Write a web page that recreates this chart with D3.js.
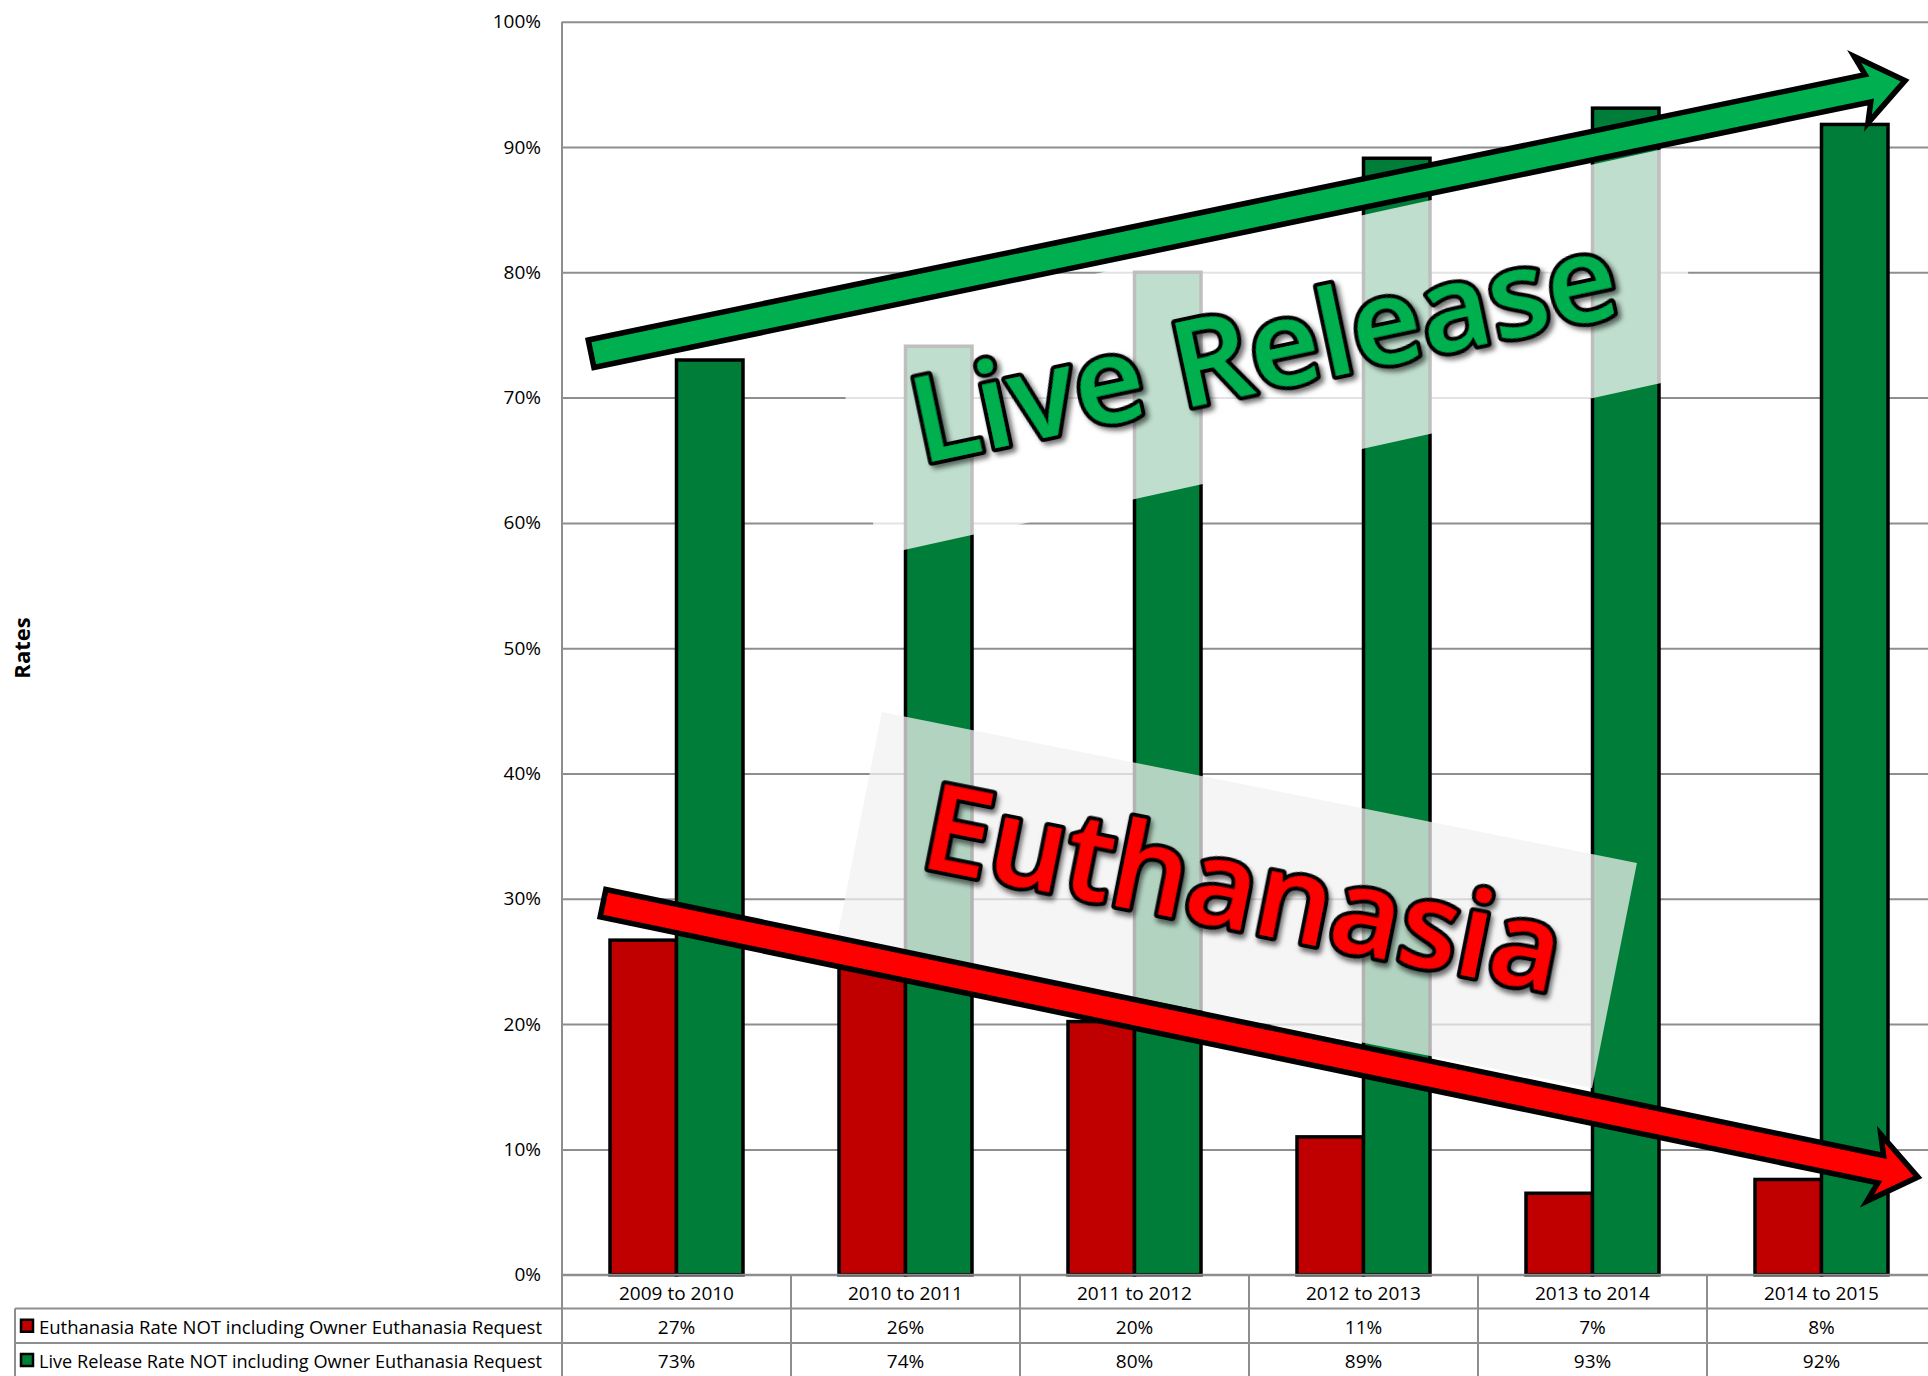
<!DOCTYPE html>
<html><head><meta charset="utf-8">
<script src="https://cdn.jsdelivr.net/npm/d3@7/dist/d3.min.js"></script>
<style>html,body{margin:0;padding:0;background:#fff;overflow:hidden}svg{display:block}</style>
</head><body>
<script>
// ---- data ----
const categories = ["2009 to 2010","2010 to 2011","2011 to 2012","2012 to 2013","2013 to 2014","2014 to 2015"];
const euthanasia = [26.7, 25.8, 20.2, 11.0, 6.5, 7.6];
const liveRelease = [73.0, 74.1, 80.0, 89.1, 93.1, 91.8];
const euthanasiaLabels = ["27%","26%","20%","11%","7%","8%"];
const liveReleaseLabels = ["73%","74%","80%","89%","93%","92%"];
const seriesNames = ["Euthanasia Rate NOT including Owner Euthanasia Request","Live Release Rate NOT including Owner Euthanasia Request"];
const seriesColors = ["#c00000","#007e39"];
const yTicks = [0,10,20,30,40,50,60,70,80,90,100];
// annotations in data space: [column position, value %]
const greenArrow = [[0.127, 73.5],[5.865, 95.3]];
const redArrow = [[0.179, 29.65],[5.921, 7.8]];
const liveBox = [[1.175,75.24],[4.799,89.8],[5.013,72.03],[1.389,57.42]];
const euthBox = [[1.397,44.9],[4.694,32.85],[4.498,14.9],[1.201,26.85]];
const liveText = {text:"Live Release", at:[1.568,64.7], angle:-12, len:718, color:"#00b050"};
const euthText = {text:"Euthanasia", at:[1.552,32.6], angle:11.3, len:648, color:"#ff0000"};

const W=1928, H=1376;
const plotLeft=562, colW=229, plotRight=plotLeft+6*colW, yTop=21.7, yBot=1274.7;
const row1=1308.5, row2=1343, row3=1377, legendLeft=15;
const font="'Open Sans', sans-serif";

const svg=d3.select("body").append("svg").attr("width",W).attr("height",H);
const defs=svg.append("defs");
const f=defs.append("filter").attr("id","shadow").attr("x","-10%").attr("y","-10%").attr("width","120%").attr("height","130%");
f.append("feDropShadow").attr("dx",3).attr("dy",4).attr("stdDeviation",2.5).attr("flood-color","#000").attr("flood-opacity",0.55);

const y=d3.scaleLinear().domain([0,100]).range([yBot,yTop]);
const x0=d3.scaleBand().domain(categories).range([plotLeft,plotRight]).padding(0);
const x1=d3.scaleBand().domain([0,1]).range([48,181]).padding(0);
const xc=d3.scaleLinear().domain([0,6]).range([plotLeft,plotRight]);

// gridlines + y axis labels
const yAxis=d3.axisLeft(y).tickValues(yTicks).tickFormat(d=>d+"%").tickSize(-(plotRight-plotLeft)).tickPadding(21);
const ga=svg.append("g").attr("transform",`translate(${plotLeft},0)`).call(yAxis);
ga.select(".domain").remove();
ga.selectAll(".tick line").attr("stroke","#8e8e8e").attr("stroke-width",2);
ga.selectAll(".tick text").attr("font-family",font).attr("font-size",19).attr("fill","#000");

// axis vertical line
svg.append("line").attr("x1",plotLeft).attr("x2",plotLeft).attr("y1",yTop).attr("y2",row3).attr("stroke","#8e8e8e").attr("stroke-width",2);

// bars
const groups=svg.append("g").selectAll("g").data(categories).join("g").attr("transform",d=>`translate(${x0(d)},0)`);
groups.selectAll("rect").data((d,i)=>[euthanasia[i],liveRelease[i]]).join("rect")
  .attr("x",(d,j)=>x1(j)).attr("width",x1.bandwidth())
  .attr("y",d=>y(d)).attr("height",d=>y(0)-y(d))
  .attr("fill",(d,j)=>seriesColors[j]).attr("stroke","#000").attr("stroke-width",3.5);

// table
const tg=svg.append("g");
[row1,row2,row3].forEach(yy=>tg.append("line").attr("x1",legendLeft).attr("x2",W).attr("y1",yy).attr("y2",yy).attr("stroke","#8e8e8e").attr("stroke-width",2));
tg.append("line").attr("x1",plotLeft).attr("x2",W).attr("y1",yBot).attr("y2",yBot).attr("stroke","#8e8e8e").attr("stroke-width",2);
d3.range(7).forEach(k=>tg.append("line").attr("x1",xc(k)).attr("x2",xc(k)).attr("y1",yBot).attr("y2",row3).attr("stroke","#8e8e8e").attr("stroke-width",2));
tg.append("line").attr("x1",legendLeft).attr("x2",legendLeft).attr("y1",row1).attr("y2",row3).attr("stroke","#8e8e8e").attr("stroke-width",2);
const cellText=(xx,yy,t)=>tg.append("text").attr("x",xx).attr("y",yy).attr("text-anchor","middle").attr("dominant-baseline","central")
  .attr("font-family",font).attr("font-size",19).attr("fill","#000").text(t);
categories.forEach((c,i)=>{
  const cx=x0(c)+x0.bandwidth()/2;
  cellText(cx,(yBot+row1)/2+1,c);
  cellText(cx,(row1+row2)/2+1,euthanasiaLabels[i]);
  cellText(cx,(row2+row3)/2+1,liveReleaseLabels[i]);
});
[[row1,row2],[row2,row3]].forEach(([a,b],j)=>{
  const cy=(a+b)/2;
  tg.append("rect").attr("x",21).attr("y",cy-6).attr("width",12).attr("height",12).attr("fill",seriesColors[j]).attr("stroke","#000").attr("stroke-width",2.5);
  tg.append("text").attr("x",39).attr("y",cy+1).attr("dominant-baseline","central").attr("font-family",font).attr("font-size",19)
    .attr("textLength",503).attr("lengthAdjust","spacingAndGlyphs").attr("fill","#000").text(seriesNames[j]);
});

// y title
svg.append("text").attr("transform","translate(21,648) rotate(-90)").attr("text-anchor","middle").attr("dominant-baseline","central")
  .attr("font-family",font).attr("font-weight",700).attr("font-size",22).attr("fill","#000").text("Rates");

// annotations
const pt=p=>[xc(p[0]),y(p[1])];
function poly(pts,fill,op){svg.append("polygon").attr("points",pts.map(p=>pt(p).join(",")).join(" ")).attr("fill",fill).attr("fill-opacity",op);}
function bigText(o){
  const [px,py]=pt(o.at);
  svg.append("text").attr("transform",`translate(${px},${py}) rotate(${o.angle})`)
    .attr("font-family",font).attr("font-size",119).attr("font-weight",600)
    .attr("textLength",o.len).attr("lengthAdjust","spacingAndGlyphs")
    .attr("fill",o.color).attr("stroke","#000").attr("stroke-width",8).attr("stroke-linejoin","round")
    .attr("paint-order","stroke").attr("filter","url(#shadow)").text(o.text);
}
function arrow(a,fill){
  const [x1a,y1a]=pt(a[0]),[x2a,y2a]=pt(a[1]);
  const L=Math.hypot(x2a-x1a,y2a-y1a), ang=Math.atan2(y2a-y1a,x2a-x1a)*180/Math.PI;
  const hw=14, hh=34, hl=38;
  const shape=[[0,-hw],[L-hl,-hw],[L-hl-7,-hh],[L,0],[L-hl-7,hh],[L-hl,hw],[0,hw]];
  svg.append("polygon").attr("transform",`translate(${x1a},${y1a}) rotate(${ang})`)
    .attr("points",shape.map(p=>p.join(",")).join(" "))
    .attr("fill",fill).attr("stroke","#000").attr("stroke-width",5.5).attr("stroke-linejoin","miter");
}
poly(liveBox,"#ffffff",0.75);
bigText(liveText);
poly(euthBox,"#f2f2f2",0.74);
bigText(euthText);
arrow(greenArrow,"#00b050");
arrow(redArrow,"#ff0000");
</script>
</body></html>
